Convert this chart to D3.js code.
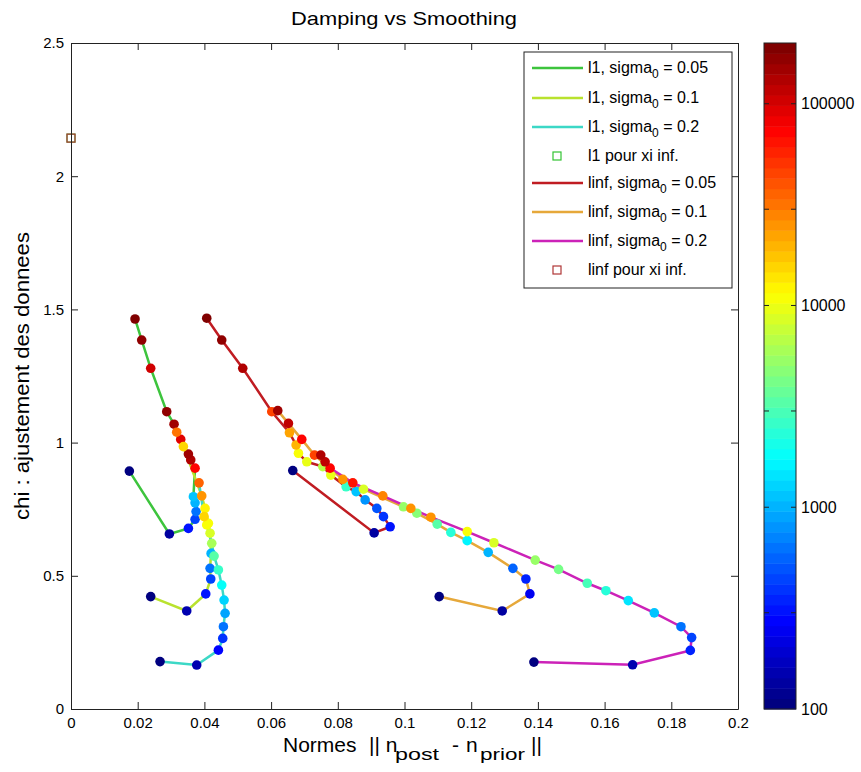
<!DOCTYPE html>
<html>
<head>
<meta charset="utf-8">
<script src="https://cdn.jsdelivr.net/npm/d3@7"></script>
<style>
  body { margin: 0; background: #fff; }
  text { font-family: "Liberation Sans", Arial, sans-serif; fill: #000; }
</style>
</head>
<body>
<svg id="chart" width="861" height="772"></svg>
<script>
// l1 series : norm (x), chi (y), damping (colour)
const l1s005x = [0.0175, 0.0295, 0.0352, 0.0372, 0.0375, 0.0372, 0.0367, 0.0372, 0.0359, 0.0352, 0.0329, 0.0309, 0.0287, 0.0239, 0.0212, 0.0192]
const l1s005y = [0.893, 0.657, 0.678, 0.712, 0.741, 0.774, 0.797, 0.904, 0.935, 0.957, 1.012, 1.069, 1.116, 1.279, 1.385, 1.464]
const l1s005d = [100, 130, 300, 450, 650, 1000, 1200, 70000, 140000, 150000, 90000, 150000, 160000, 110000, 170000, 200000]

const l1s01x = [0.0239, 0.0347, 0.0404, 0.0419, 0.0417, 0.0420, 0.0417, 0.0412, 0.0402, 0.0392, 0.0337, 0.0317]
const l1s01y = [0.422, 0.368, 0.432, 0.488, 0.528, 0.584, 0.660, 0.697, 0.753, 0.800, 0.985, 1.039]
const l1s01d = [100, 150, 300, 450, 650, 1000, 9000, 11000, 13000, 25000, 15000, 30000]

const l1s02x = [0.0267, 0.0377, 0.0442, 0.0455, 0.0457, 0.0462, 0.0459, 0.0452, 0.0442, 0.0429, 0.0422, 0.0407, 0.0399, 0.0384]
const l1s02y = [0.178, 0.165, 0.221, 0.265, 0.309, 0.359, 0.409, 0.465, 0.522, 0.574, 0.622, 0.691, 0.722, 0.849]
const l1s02d = [100, 150, 280, 400, 600, 900, 1300, 1800, 2500, 3500, 6000, 11000, 16000, 35000]

// linf series
const linfs005x = [0.0665, 0.0909, 0.0957, 0.0937, 0.0917, 0.0882, 0.0855, 0.0825, 0.0779, 0.0755, 0.0707, 0.0682, 0.0675, 0.0655, 0.0602, 0.0515, 0.0452, 0.0407]
const linfs005y = [0.895, 0.661, 0.684, 0.722, 0.753, 0.785, 0.816, 0.834, 0.878, 0.910, 0.928, 0.960, 0.991, 1.037, 1.116, 1.279, 1.385, 1.467]
const linfs005d = [100, 130, 300, 400, 500, 800, 1200, 2500, 10000, 7000, 10000, 11000, 20000, 22000, 45000, 130000, 170000, 200000]

const linfs01x = [0.1104, 0.1293, 0.1376, 0.1364, 0.1325, 0.1251, 0.1188, 0.1139, 0.1098, 0.1037, 0.0997, 0.0877, 0.0815, 0.0730, 0.0692, 0.0652, 0.0620]
const linfs01y = [0.422, 0.368, 0.432, 0.488, 0.528, 0.588, 0.632, 0.663, 0.694, 0.735, 0.759, 0.825, 0.862, 0.953, 1.012, 1.072, 1.120]
const linfs01d = [100, 140, 250, 350, 550, 1000, 1700, 2400, 3500, 4500, 5200, 9000, 25000, 45000, 70000, 120000, 150000]

const linfs02x = [0.1388, 0.1684, 0.1857, 0.1861, 0.1829, 0.1749, 0.1671, 0.1604, 0.1548, 0.1462, 0.1392, 0.1268, 0.1188, 0.1079, 0.1019, 0.0935, 0.0845, 0.0777, 0.0762, 0.0749]
const linfs02y = [0.176, 0.166, 0.220, 0.268, 0.309, 0.361, 0.407, 0.444, 0.472, 0.524, 0.559, 0.624, 0.666, 0.720, 0.753, 0.800, 0.849, 0.904, 0.928, 0.953]
const linfs02d = [100, 150, 360, 460, 660, 1100, 1500, 2400, 3100, 4400, 5200, 8200, 11000, 24000, 26000, 28000, 64000, 74000, 117000, 140000]

// xi infinite points
const xiInfX = [0, 0]
const xiInfY = [2.143, 2.143]

const xTicks = [0, 0.02, 0.04, 0.06, 0.08, 0.1, 0.12, 0.14, 0.16, 0.18, 0.2]
const yTicks = [0, 0.5, 1, 1.5, 2, 2.5]
const cbTicks = [300, 1000, 3000, 10000, 30000, 100000]
const cbLabels = [100, 1000, 10000, 100000]
const cbDomain = [100, 200000]

const seriesNames = ['l1, sigma', 'l1, sigma', 'l1, sigma', 'l1 pour xi inf.', 'linf, sigma', 'linf, sigma', 'linf, sigma', 'linf pour xi inf.']
const seriesSigma = ['0.05', '0.1', '0.2', null, '0.05', '0.1', '0.2', null]
const seriesColors = ['#3dc43d', '#b9e22e', '#3cd8c6', '#33c433', '#c01c22', '#e6a83a', '#cc22b8', '#b03636']

const svg = d3.select('#chart')
const margin = { top: 43, left: 71 }
const width = 667
const height = 666

const x = d3.scaleLinear().domain([0, 0.2]).range([0, width])
const y = d3.scaleLinear().domain([0, 2.5]).range([height, 0])
const cNorm = d3.scaleLog().domain(cbDomain).range([0, 1]).clamp(true)

// MATLAB style jet colormap, 64 levels
function jet(t) {
  const k = Math.min(63, Math.floor(t * 64)) / 63
  const c = v => Math.max(0, Math.min(1, v)) * 255
  return d3.rgb(c(1.5 - Math.abs(4 * k - 3)), c(1.5 - Math.abs(4 * k - 2)), c(1.5 - Math.abs(4 * k - 1))).toString()
}

const g = svg.append('g').attr('transform', `translate(${margin.left}, ${margin.top})`)

const lines = [
  [l1s005x, l1s005y, l1s005d, 0],
  [l1s01x, l1s01y, l1s01d, 1],
  [l1s02x, l1s02y, l1s02d, 2],
  [linfs005x, linfs005y, linfs005d, 4],
  [linfs01x, linfs01y, linfs01d, 5],
  [linfs02x, linfs02y, linfs02d, 6]
]

const line = d3.line().x(d => x(d[0])).y(d => y(d[1]))

// lines first
lines.forEach(([xs, ys, ds, i]) => {
  g.append('path')
    .datum(xs.map((v, j) => [v, ys[j]]))
    .attr('d', line)
    .attr('fill', 'none')
    .attr('stroke', seriesColors[i])
    .attr('stroke-width', 2.5)
})

// coloured markers
lines.forEach(([xs, ys, ds]) => {
  g.append('g').selectAll('circle')
    .data(xs.map((v, j) => [v, ys[j], ds[j]]))
    .join('circle')
    .attr('cx', d => x(d[0]))
    .attr('cy', d => y(d[1]))
    .attr('r', 4.8)
    .attr('fill', d => jet(cNorm(d[2])))
})

// xi inf squares
xiInfX.forEach((v, j) => {
  g.append('rect')
    .attr('x', x(v) - 4)
    .attr('y', y(xiInfY[j]) - 4)
    .attr('width', 8)
    .attr('height', 8)
    .attr('fill', 'none')
    .attr('stroke', seriesColors[j === 0 ? 3 : 7])
    .attr('stroke-width', 1.2)
})

// axes, ticks inside on all 4 sides
const fmt = d => String(+d.toFixed(2))
g.append('g')
  .attr('transform', `translate(0, ${height})`)
  .call(d3.axisBottom(x).tickValues(xTicks).tickFormat(fmt).tickSizeInner(-7).tickSizeOuter(0).tickPadding(8))
g.append('g')
  .call(d3.axisTop(x).tickValues(xTicks).tickFormat('').tickSizeInner(-7).tickSizeOuter(0))
g.append('g')
  .call(d3.axisLeft(y).tickValues(yTicks).tickFormat(fmt).tickSizeInner(-7).tickSizeOuter(0).tickPadding(7))
g.append('g')
  .attr('transform', `translate(${width}, 0)`)
  .call(d3.axisRight(y).tickValues(yTicks).tickFormat('').tickSizeInner(-7).tickSizeOuter(0))

g.selectAll('.tick text').style('font-size', '15px').style('font-family', '"Liberation Sans", Arial, sans-serif')
g.selectAll('.domain, .tick line').attr('stroke', '#222')

// legend
const leg = svg.append('g').attr('transform', 'translate(524, 52)')
leg.append('rect').attr('width', 208).attr('height', 236).attr('fill', '#fff').attr('stroke', '#222')
const legY = [16, 46, 75, 104, 131, 160, 189, 218]
seriesNames.forEach((name, i) => {
  const e = leg.append('g').attr('transform', `translate(0, ${legY[i]})`)
  if (seriesSigma[i] === null) {
    e.append('rect').attr('x', 29).attr('y', -4).attr('width', 8).attr('height', 8)
      .attr('fill', 'none').attr('stroke', seriesColors[i]).attr('stroke-width', 1.2)
  } else {
    e.append('line').attr('x1', 8).attr('x2', 59).attr('stroke', seriesColors[i]).attr('stroke-width', 2.5)
  }
  const t = e.append('text').attr('x', 64).attr('y', 5).style('font-size', '16px')
  t.append('tspan').text(name)
  if (seriesSigma[i] !== null) {
    t.append('tspan').attr('dy', 5).style('font-size', '12px').text('0')
    t.append('tspan').attr('dy', -5).text(' = ' + seriesSigma[i])
  }
})

// colorbar
const cbX = 764, cbW = 32
const cbY = d3.scaleLog().domain(cbDomain).range([margin.top + height, margin.top])
const cb = svg.append('g')
const nBands = 64
const lo = Math.log10(cbDomain[0]), hi = Math.log10(cbDomain[1])
d3.range(nBands).forEach(i => {
  const a = Math.pow(10, lo + (hi - lo) * i / nBands)
  const b = Math.pow(10, lo + (hi - lo) * (i + 1) / nBands)
  cb.append('rect')
    .attr('x', cbX).attr('width', cbW)
    .attr('y', cbY(b)).attr('height', cbY(a) - cbY(b) + 0.5)
    .attr('fill', jet((i + 0.5) / nBands))
})
cb.append('rect').attr('x', cbX).attr('y', margin.top).attr('width', cbW).attr('height', height)
  .attr('fill', 'none').attr('stroke', '#222')
cbTicks.forEach(v => {
  cb.append('line').attr('x1', cbX).attr('x2', cbX + 5).attr('y1', cbY(v)).attr('y2', cbY(v)).attr('stroke', '#222')
  cb.append('line').attr('x1', cbX + cbW - 5).attr('x2', cbX + cbW).attr('y1', cbY(v)).attr('y2', cbY(v)).attr('stroke', '#222')
})
cbLabels.forEach(v => {
  cb.append('text').attr('x', cbX + cbW + 5).attr('y', cbY(v)).attr('dy', '0.35em')
    .style('font-size', '16px').text(v)
})

// title and axis labels
svg.append('text').attr('x', 404).attr('y', 25).attr('text-anchor', 'middle')
  .attr('textLength', 226).attr('lengthAdjust', 'spacingAndGlyphs')
  .style('font-size', '19px').text('Damping vs Smoothing')

svg.append('text')
  .attr('transform', `translate(29, ${margin.top + height / 2}) rotate(-90)`)
  .attr('text-anchor', 'middle')
  .attr('textLength', 288).attr('lengthAdjust', 'spacingAndGlyphs')
  .style('font-size', '20px')
  .text('chi : ajustement des donnees')

// x label, pieces placed like the TeX layout of the original
const xl = svg.append('g').style('font-size', '21px')
xl.append('text').attr('x', 283).attr('y', 752).text('Normes')
xl.append('text').attr('x', 369).attr('y', 752).text('|| n')
xl.append('text').attr('x', 395).attr('y', 760).style('font-size', '17px')
  .attr('textLength', 44).attr('lengthAdjust', 'spacingAndGlyphs').text('post')
xl.append('text').attr('x', 452).attr('y', 752).text('-')
xl.append('text').attr('x', 466).attr('y', 752).text('n')
xl.append('text').attr('x', 480).attr('y', 760).style('font-size', '17px')
  .attr('textLength', 45).attr('lengthAdjust', 'spacingAndGlyphs').text('prior')
xl.append('text').attr('x', 531).attr('y', 752).text('||')
</script>
</body>
</html>
